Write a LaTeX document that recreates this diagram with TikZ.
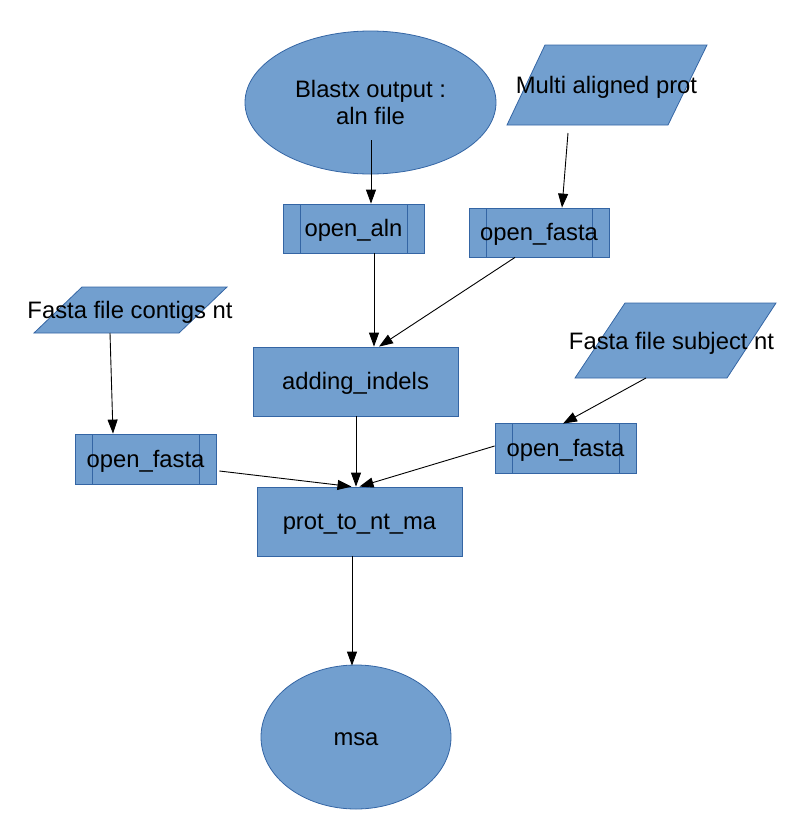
\documentclass[tikz,border=0pt]{standalone}
\usepackage{fontspec}
\setmainfont{Liberation Sans}
\usetikzlibrary{shapes.geometric,arrows.meta}
\definecolor{boxfill}{HTML}{729FCF}
\definecolor{boxline}{HTML}{3465A4}
\tikzset{
  lbl/.style={font=\fontsize{23.8}{26.5}\selectfont, text=black, align=center, inner sep=0pt},
  onelbl/.style={lbl, text height=17pt, text depth=1pt},
  procbox/.style={rectangle, draw=boxline, fill=boxfill, line width=0.8pt, onelbl},
  predef/.style={procbox, path picture={
      \draw[boxline, line width=0.8pt]
        ([xshift=17pt]path picture bounding box.north west) -- ([xshift=17pt]path picture bounding box.south west)
        ([xshift=-17pt]path picture bounding box.north east) -- ([xshift=-17pt]path picture bounding box.south east);}},
  ovalbox/.style={ellipse, draw=boxline, fill=boxfill, line width=0.8pt, lbl},
  iobox/.style={draw=boxline, fill=boxfill, line width=0.8pt},
  arr/.style={draw=black, line width=0.9pt, -{Triangle[length=14pt,width=10pt]}}
}
\begin{document}
\begin{tikzpicture}[x=1pt,y=-1pt]
\useasboundingbox (0,0) rectangle (794,828);
% shapes
\node[ovalbox, minimum width=251pt, minimum height=143pt] (blast) at (370.5,102.5) {Blastx output :\\aln file};
\path[iobox] (545,45) -- (707,45) -- (668,125) -- (507,125) -- cycle;
\node[onelbl] (multi) at (606.5,85) {Multi aligned prot};
\path[iobox] (82,287) -- (227,287) -- (179,333) -- (34,333) -- cycle;
\node[onelbl] (contigs) at (130,310) {Fasta file contigs nt};
\path[iobox] (625,303) -- (776,303) -- (727,378) -- (575,378) -- cycle;
\node[onelbl] (subject) at (671.5,341) {Fasta file subject nt};

\node[predef, minimum width=141pt, minimum height=49pt] (openaln) at (353.5,228.5) {open\_aln};
\node[predef, minimum width=140pt, minimum height=49pt] (ofa) at (539,232.5) {open\_fasta};
\node[procbox, minimum width=205pt, minimum height=69pt] (adding) at (355.5,381.5) {adding\_indels};
\node[predef, minimum width=141pt, minimum height=50pt] (ofl) at (145.5,459) {open\_fasta};
\node[predef, minimum width=141pt, minimum height=50pt] (ofr) at (565.5,448) {open\_fasta};
\node[procbox, minimum width=205pt, minimum height=69pt] (prot) at (359.5,521.5) {prot\_to\_nt\_ma};
\node[ovalbox, onelbl, minimum width=190pt, minimum height=144pt] (msa) at (356,737) {msa};

% connector ends
\coordinate (blastout) at (371,140);
\coordinate (multiout) at (568,133);
\coordinate (contigsout) at (110,333);
\coordinate (subjectout) at (646,378);

% connectors
\draw[arr] (blastout) -- (openaln.north -| blastout);
\draw[arr] (multiout) -- ([xshift=23pt]ofa.north);
\draw[arr] ([xshift=20.5pt]openaln.south) -- ([xshift=18.5pt]adding.north);
\draw[arr] ([xshift=-24pt]ofa.south) -- ([xshift=23.5pt]adding.north);
\draw[arr] (contigsout) -- ([xshift=-32.5pt]ofl.north);
\draw[arr] (subjectout) -- ([xshift=-2.5pt,yshift=-1pt]ofr.north);
\draw[arr] ([xshift=0.5pt]adding.south) -- ([xshift=-3.5pt]prot.north);
\draw[arr] ([xshift=3pt,yshift=-12pt]ofl.east) -- ([xshift=-8pt]prot.north);
\draw[arr] ([yshift=2pt]ofr.west) -- ([xshift=0pt]prot.north);
\draw[arr] ([xshift=-7.5pt]prot.south) -- ([xshift=-4pt,yshift=-1pt]msa.north);
\end{tikzpicture}
\end{document}
